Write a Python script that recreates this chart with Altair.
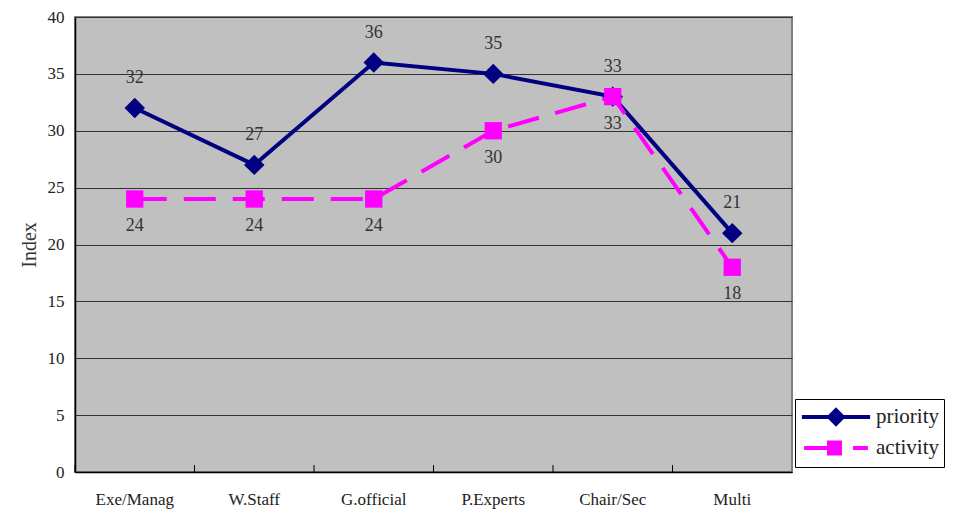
import altair as alt
import pandas as pd

categories = ["Exe/Manag", "W.Staff", "G.official", "P.Experts", "Chair/Sec", "Multi"]
priority = [32, 27, 36, 35, 33, 21]
activity = [24, 24, 24, 30, 33, 18]
series_names = ["priority", "activity"]
series_colors = ["#000080", "#FF00FF"]
y_ticks = [0, 5, 10, 15, 20, 25, 30, 35, 40]

# legend symbols: line + marker drawn as one custom path
legend_paths = [
    "M-3.1,0H3.1M0,-0.62L0.62,0L0,0.62L-0.62,0Z",
    "M-2.9,0H-0.6M1.55,0H2.9M-0.64,-0.5H0.36V0.5H-0.64Z",
]

df = pd.DataFrame({
    "category": categories * 2,
    "value": priority + activity,
    "series": ["priority"] * len(categories) + ["activity"] * len(categories),
})

W, H = 717, 455
FONT = "Liberation Serif"

x_scale = alt.Scale(type="band", paddingInner=0, paddingOuter=0)
x_axis = alt.Axis(title=None, labelAngle=0, ticks=False, grid=False,
                  labelFont=FONT, labelFontSize=17, labelColor="#222",
                  labelPadding=19, domainColor="#000", domainWidth=1.5)
x_enc = alt.X("category:N", sort=categories, scale=x_scale, axis=x_axis)
y_enc = alt.Y(
    "value:Q", scale=alt.Scale(domain=[0, 40], nice=False, zero=True),
    axis=alt.Axis(title="Index", values=y_ticks, ticks=False, grid=True,
                  gridColor="#333", gridWidth=1, labelFont=FONT,
                  labelFontSize=17, labelColor="#222", labelPadding=11,
                  titleFont=FONT, titleFontSize=20, titleFontWeight="normal",
                  titleColor="#333", titlePadding=8, domainColor="#000",
                  domainWidth=1.5),
)

base = alt.Chart(df)

ticks = base.transform_filter("datum.series == 'priority'").mark_rule(
    color="#000", strokeWidth=1
).encode(
    x=alt.X("category:N", sort=categories, scale=x_scale, bandPosition=0, axis=x_axis),
    y=alt.value(H),
    y2=alt.value(H - 7),
)

layers = [ticks]
dash = {"priority": None, "activity": [32, 17]}
shapes = {"priority": ("diamond", 420), "activity": ("square", 300)}
dys = {"priority": -30, "activity": 27}
for name, color in zip(series_names, series_colors):
    sub = base.transform_filter(f"datum.series == '{name}'")
    line_kw = dict(color=color, strokeWidth=4)
    if dash[name]:
        line_kw["strokeDash"] = dash[name]
    layers.append(sub.mark_line(**line_kw).encode(x=x_enc, y=y_enc))
    shp, sz = shapes[name]
    layers.append(sub.mark_point(shape=shp, size=sz, filled=True, color=color,
                                 opacity=1).encode(x=x_enc, y=y_enc))

for name in series_names:
    sub = base.transform_filter(f"datum.series == '{name}'")
    layers.append(sub.mark_text(font=FONT, fontSize=18, color="#333",
                                dy=dys[name]).encode(x=x_enc, y=y_enc,
                                                     text="value:Q"))

leg = alt.Legend(title=None, orient="none", legendX=720, legendY=382,
                 labelFont=FONT, labelFontSize=21, labelColor="#222",
                 symbolOffset=23, labelOffset=27, symbolStrokeWidth=4,
                 symbolSize=484, rowPadding=2, padding=5,
                 strokeColor="#000", fillColor="#fff")
legend_layer = base.transform_filter("false").mark_point(
    filled=False, strokeWidth=4, size=484, opacity=1
).encode(
    x=x_enc, y=y_enc,
    stroke=alt.Stroke("series:N", scale=alt.Scale(domain=series_names, range=series_colors), legend=leg),
    fill=alt.Fill("series:N", scale=alt.Scale(domain=series_names, range=series_colors), legend=leg),
    shape=alt.Shape("series:N", scale=alt.Scale(domain=series_names, range=legend_paths), legend=leg),
)
layers.append(legend_layer)

chart = alt.layer(*layers).properties(
    width=W, height=H,
    autosize=alt.AutoSizeParams(type="none"),
    padding={"left": 67, "top": 9, "right": 155, "bottom": 37},
    background="#ffffff",
).configure_view(fill="#C0C0C0", stroke="#808080", strokeWidth=2)

chart.save("out.html", embed_options={"renderer": "svg", "actions": False})
